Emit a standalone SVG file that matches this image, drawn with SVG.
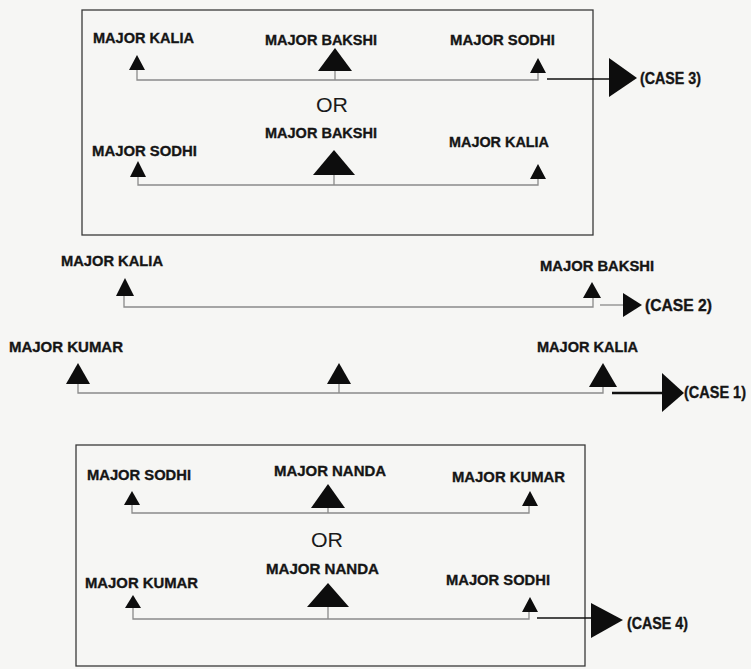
<svg xmlns="http://www.w3.org/2000/svg" width="751" height="669" viewBox="0 0 751 669">
<style>
.bg{fill:#f6f6f4}
.box{fill:none;stroke:#3a3a3a;stroke-width:1.3}
.lbl{font-family:"Liberation Sans",Arial,sans-serif;font-weight:bold;font-size:15.5px;fill:#151515;stroke:#151515;stroke-width:0.35}
.case{font-family:"Liberation Sans",Arial,sans-serif;font-weight:bold;font-size:16px;fill:#151515;stroke:#151515;stroke-width:0.35}
.or{font-family:"Liberation Sans",Arial,sans-serif;font-size:21px;fill:#1a1a1a}
.tri{fill:#0d0d0d}
.ln{fill:none;stroke:#8a8a8a;stroke-width:1.3}
.arr{fill:none;stroke:#111;stroke-width:1.6}
.head{fill:#0d0d0d}
</style>
<rect class="bg" x="0" y="0" width="751" height="669"/>

<g id="box-case3">
<rect class="box" x="82" y="10" width="511" height="225"/>
<text class="or" x="316" y="112" textLength="32" lengthAdjust="spacingAndGlyphs">OR</text>
</g>
<g id="box-case4">
<rect class="box" x="76" y="445" width="509" height="221"/>
<text class="or" x="311" y="547" textLength="32" lengthAdjust="spacingAndGlyphs">OR</text>
</g>

<g id="connectors">
<path class="ln" d="M137 70 V80 H538 V73 M335 71 V80"/>
<path class="ln" d="M138 177 V185 H538 V179 M334 175 V185"/>
<path class="ln" d="M124 296 V307 H593 V298"/>
<path class="ln" d="M78 384 V393 H603 V387 M339 384 V393"/>
<path class="ln" d="M132 505 V513 H529 V506 M328 508 V513"/>
<path class="ln" d="M133 608 V619 H529 V612 M328 607 V619"/>
<line class="arr" x1="547" y1="79" x2="611" y2="79"/>
<polygon class="head" points="609,58 637,78 609,97"/>
<line class="ln" x1="600" y1="305" x2="624" y2="305"/>
<polygon class="head" points="623,293 642,305 623,317"/>
<line class="arr" x1="612" y1="393" x2="663" y2="393" style="stroke-width:2.4"/>
<polygon class="head" points="662,373 684,393 662,412"/>
<line class="arr" x1="537" y1="618" x2="593" y2="618"/>
<polygon class="head" points="591,603 623,620 591,638"/>
</g>

<g id="c3-r1-kalia"><text class="lbl" x="93" y="43" textLength="101" lengthAdjust="spacingAndGlyphs">MAJOR KALIA</text><polygon class="tri" points="137,55 145,70 129,70"/></g>
<g id="c3-r1-bakshi"><text class="lbl" x="265" y="45" textLength="112" lengthAdjust="spacingAndGlyphs">MAJOR BAKSHI</text><polygon class="tri" points="335,48 352,71 318,71"/></g>
<g id="c3-r1-sodhi"><text class="lbl" x="450" y="45" textLength="105" lengthAdjust="spacingAndGlyphs">MAJOR SODHI</text><polygon class="tri" points="538,58 546,73 530,73"/></g>
<g id="c3-r2-sodhi"><text class="lbl" x="92" y="156" textLength="105" lengthAdjust="spacingAndGlyphs">MAJOR SODHI</text><polygon class="tri" points="138,161 146,177 130,177"/></g>
<g id="c3-r2-bakshi"><text class="lbl" x="265" y="138" textLength="112" lengthAdjust="spacingAndGlyphs">MAJOR BAKSHI</text><polygon class="tri" points="334,150 355,175 313,175"/></g>
<g id="c3-r2-kalia"><text class="lbl" x="449" y="147" textLength="100" lengthAdjust="spacingAndGlyphs">MAJOR KALIA</text><polygon class="tri" points="538,164 546,179 530,179"/></g>
<g id="case3"><text class="case" x="640" y="84" textLength="61" lengthAdjust="spacingAndGlyphs">(CASE 3)</text></g>

<g id="c2-kalia"><text class="lbl" x="61" y="266" textLength="102" lengthAdjust="spacingAndGlyphs">MAJOR KALIA</text><polygon class="tri" points="125,278 134,296 116,296"/></g>
<g id="c2-bakshi"><text class="lbl" x="540" y="271" textLength="114" lengthAdjust="spacingAndGlyphs">MAJOR BAKSHI</text><polygon class="tri" points="592,282 601,298 583,298"/></g>
<g id="case2"><text class="case" x="645" y="311" textLength="67" lengthAdjust="spacingAndGlyphs">(CASE 2)</text></g>

<g id="c1-kumar"><text class="lbl" x="9" y="352" textLength="114" lengthAdjust="spacingAndGlyphs">MAJOR KUMAR</text><polygon class="tri" points="78,363 90,384 66,384"/></g>
<g id="c1-mid"><polygon class="tri" points="339,363 351,384 327,384"/></g>
<g id="c1-kalia"><text class="lbl" x="537" y="352" textLength="101" lengthAdjust="spacingAndGlyphs">MAJOR KALIA</text><polygon class="tri" points="603,363 617,387 589,387"/></g>
<g id="case1"><text class="case" x="684" y="398" textLength="62" lengthAdjust="spacingAndGlyphs">(CASE 1)</text></g>

<g id="c4-r1-sodhi"><text class="lbl" x="87" y="480" textLength="104" lengthAdjust="spacingAndGlyphs">MAJOR SODHI</text><polygon class="tri" points="132,491 140,505 124,505"/></g>
<g id="c4-r1-nanda"><text class="lbl" x="274" y="476" textLength="112" lengthAdjust="spacingAndGlyphs">MAJOR NANDA</text><polygon class="tri" points="328,484 345,508 311,508"/></g>
<g id="c4-r1-kumar"><text class="lbl" x="452" y="482" textLength="113" lengthAdjust="spacingAndGlyphs">MAJOR KUMAR</text><polygon class="tri" points="530,491 538,506 522,506"/></g>
<g id="c4-r2-kumar"><text class="lbl" x="85" y="588" textLength="113" lengthAdjust="spacingAndGlyphs">MAJOR KUMAR</text><polygon class="tri" points="133,595 141,608 125,608"/></g>
<g id="c4-r2-nanda"><text class="lbl" x="266" y="574" textLength="113" lengthAdjust="spacingAndGlyphs">MAJOR NANDA</text><polygon class="tri" points="328,583 349,607 307,607"/></g>
<g id="c4-r2-sodhi"><text class="lbl" x="446" y="585" textLength="104" lengthAdjust="spacingAndGlyphs">MAJOR SODHI</text><polygon class="tri" points="530,597 538,612 522,612"/></g>
<g id="case4"><text class="case" x="627" y="629" textLength="61" lengthAdjust="spacingAndGlyphs">(CASE 4)</text></g>
</svg>
